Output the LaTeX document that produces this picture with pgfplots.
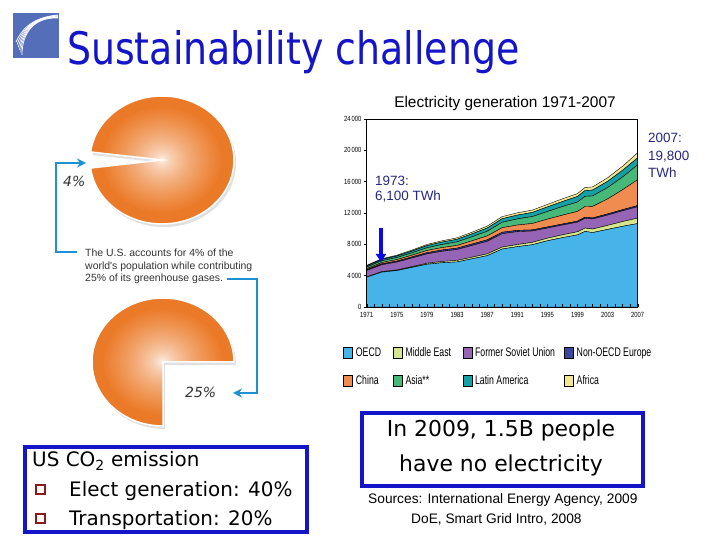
\documentclass[border=0pt]{standalone}
\usepackage{pgfplots}
\pgfplotsset{compat=1.18}
\usepackage{pgfplotstable}
\usepackage{graphicx}
\usepackage{fontspec}
\setmainfont{DejaVu Sans}
\newfontfamily\arial{Liberation Sans}
\usetikzlibrary{arrows.meta}

\definecolor{titleblue}{RGB}{20,20,200}
\definecolor{boxblue}{RGB}{20,20,200}
\definecolor{annoblue}{RGB}{40,40,130}
\definecolor{arrowblue}{RGB}{10,10,230}
\definecolor{linkblue}{RGB}{30,145,210}
\definecolor{logoblue}{RGB}{85,110,185}
\definecolor{pieor}{RGB}{235,122,40}
\definecolor{bulred}{RGB}{140,25,25}
\definecolor{cOECD}{RGB}{70,180,232}
\definecolor{cME}{RGB}{214,230,140}
\definecolor{cFSU}{RGB}{150,100,180}
\definecolor{cNOE}{RGB}{60,70,160}
\definecolor{cCHN}{RGB}{240,140,80}
\definecolor{cASIA}{RGB}{70,185,120}
\definecolor{cLA}{RGB}{20,160,165}
\definecolor{cAFR}{RGB}{245,230,145}

\newcommand\legtxt[2]{\makebox[#1][l]{\hspace{3bp}\scalebox{0.7}[1]{\arial\fontsize{12.5}{12.5}\selectfont #2}}}

% radial fade, white centre to orange rim, drawn as nested ellipses
\newcommand\piefill[3]{% centre x, centre y, path
  \begin{scope}
    \clip #3;
    \fill[pieor] (#1,#2) ellipse[x radius=74, y radius=66];
    \foreach \k in {0,...,29}{
      \pgfmathsetmacro\fr{0.85*(1-\k/30)}
      \pgfmathsetmacro\mix{100*(\fr/0.85)^0.6}
      \fill[pieor!\mix!white] (#1,#2) ellipse[x radius=72*\fr, y radius=64*\fr];
    }
  \end{scope}
}

% electricity generation by region, TWh
\pgfplotstableread{
year oecd me fsu noe china asia la africa
1971 3800 50 800 100 140 200 140 90
1973 4450 60 880 115 165 230 160 100
1975 4650 80 1000 125 195 260 190 115
1977 5050 100 1100 140 220 300 220 130
1979 5450 130 1200 150 280 350 270 150
1981 5650 160 1300 160 310 400 300 170
1983 5750 190 1400 170 350 450 330 190
1985 6150 210 1500 180 410 520 370 210
1987 6550 230 1600 185 500 600 410 240
1989 7400 250 1700 190 580 700 450 270
1991 7700 270 1650 160 680 780 490 290
1993 7950 300 1450 140 820 880 530 300
1995 8450 330 1300 130 1000 980 580 320
1997 8850 360 1250 130 1130 1100 640 350
1999 9200 400 1230 130 1240 1200 700 370
2000 9650 420 1260 135 1360 1300 740 390
2001 9500 450 1280 135 1480 1330 750 400
2003 9900 520 1320 140 1910 1450 800 450
2005 10300 600 1380 145 2550 1620 860 520
2007 10650 700 1450 150 3300 1900 900 650
}\elec

\begin{document}
\begin{tikzpicture}[x=1bp,y=1bp]
\fill[white] (0,0) rectangle (720,540);
\useasboundingbox (0,0) rectangle (720,540);

% logo
\fill[logoblue] (13,482) rectangle (59,527);
\foreach \i in {0,...,5}{
  \draw[white, line width=0.7bp] (16+\i*1.2,498-\i*2.6) .. controls (22,512-\i) and (34,523) .. (58,525-\i*0.6);
}
\node[anchor=base west, text=titleblue, font=\fontsize{45}{45}\selectfont, xscale=0.845, inner sep=0] at (67,475) {Sustainability challenge};

% pies
\def\pieA{(162,380) -- ++(187.2:72 and 64) arc[start angle=187.2, end angle=532.8, x radius=72, y radius=64] -- cycle}
\def\pieAs{(164,377) -- ++(187.2:72 and 64) arc[start angle=187.2, end angle=532.8, x radius=72, y radius=64] -- cycle}
\def\pieB{(163,178) -- ++(0:71 and 64) arc[start angle=0, end angle=270, x radius=71, y radius=64] -- cycle}
\def\pieBs{(165,175) -- ++(0:71 and 64) arc[start angle=0, end angle=270, x radius=71, y radius=64] -- cycle}
\fill[black, opacity=0.12] \pieAs;
\piefill{162}{380}{\pieA}
\draw[white, line width=1.5bp] \pieA;
\fill[black, opacity=0.12] \pieBs;
\piefill{163}{178}{\pieB}
\draw[white, line width=1.5bp] \pieB;

\draw[linkblue, line width=1.5bp, -{Stealth[length=9bp,width=9bp]}] (77,288) -- (56,288) -- (56,377) -- (86,377);
\draw[linkblue, line width=1.5bp, -{Stealth[length=9bp,width=9bp]}] (227,261) -- (257,261) -- (257,147) -- (233,147);
\node[anchor=base west, inner sep=0, font=\fontsize{14}{14}\selectfont\itshape, text=black!80] at (63,353) {4\%};
\node[anchor=base west, inner sep=0, font=\fontsize{14}{14}\selectfont\itshape, text=black!80] at (185,142) {25\%};
\node[anchor=base west, inner sep=0, font=\arial\fontsize{10.5}{10.5}\selectfont, text=black!80] at (85,283) {The U.S. accounts for 4\% of the};
\node[anchor=base west, inner sep=0, font=\arial\fontsize{10.5}{10.5}\selectfont, text=black!80] at (85,270.5) {world's population while contributing};
\node[anchor=base west, inner sep=0, font=\arial\fontsize{10.5}{10.5}\selectfont, text=black!80] at (85,258) {25\% of its greenhouse gases.};

% text boxes
\draw[boxblue, line width=4bp] (25,93) rectangle (307,8);
\node[anchor=base west, inner sep=0, font=\fontsize{20}{20}\selectfont] at (32,73) {US CO\textsubscript{2} emission};
\draw[bulred, line width=1.3bp] (36,55) rectangle (45,46);
\draw[bulred, line width=1.3bp] (36,26) rectangle (45,17);
\node[anchor=base west, inner sep=0, font=\fontsize{20}{20}\selectfont] at (69,43) {Elect generation: 40\%};
\node[anchor=base west, inner sep=0, font=\fontsize{20}{20}\selectfont] at (69,14) {Transportation: 20\%};

\draw[boxblue, line width=4bp] (362,127) rectangle (643,54);
\node[anchor=base, inner sep=0, font=\fontsize{22}{22}\selectfont] at (501,103) {In 2009, 1.5B people};
\node[anchor=base, inner sep=0, font=\fontsize{22}{22}\selectfont] at (501,68) {have no electricity};
\node[anchor=base west, inner sep=0, font=\arial\fontsize{13.8}{13.8}\selectfont] at (368,36) {Sources: International Energy Agency, 2009};
\node[anchor=base west, inner sep=0, font=\arial\fontsize{13.8}{13.8}\selectfont] at (411,16) {DoE, Smart Grid Intro, 2008};

% chart
\node[anchor=base, inner sep=0, font=\arial\fontsize{15.5}{15.5}\selectfont] at (505,432) {Electricity generation 1971-2007};

\begin{axis}[
  at={(366.7bp,233bp)}, anchor=south west,
  scale only axis, width=271bp, height=188bp,
  xmin=1971, xmax=2007, ymin=0, ymax=24000,
  stack plots=y,
  scaled y ticks=false, scaled x ticks=false,
  xtick={1971,1975,1979,1983,1987,1991,1995,1999,2003,2007},
  xticklabels={1971,1975,1979,1983,1987,1991,1995,1999,2003,2007},
  minor x tick num=3,
  ytick={0,4000,8000,12000,16000,20000,24000},
  yticklabels={0,4\hspace{1.5bp}000,8\hspace{1.5bp}000,12\hspace{1.5bp}000,16\hspace{1.5bp}000,20\hspace{1.5bp}000,24\hspace{1.5bp}000},
  tick label style={font=\arial\fontsize{7.5}{7.5}\selectfont, xscale=0.78},
  x tick label style={yshift=-2bp},
  tick pos=left, major tick length=2.5bp, minor tick length=2.5bp,
  xtick align=inside, ytick align=outside,
  tick style={black, line width=0.4pt},
  axis line style={black, line width=0.8pt},
  axis on top,
  legend columns=4,
  legend image code/.code={\draw[#1, draw=black, line width=0.6pt] (0bp,-5.5bp) rectangle (9bp,5.5bp);},
  legend style={at={(-0.087,-0.21)}, anchor=north west, draw=none, fill=none,
    inner sep=0pt, nodes={inner sep=0pt}, column sep=0pt, row sep=17bp},
]
\addplot[fill=cOECD, draw=black, line width=0.4pt] table[x=year,y=oecd]{\elec} \closedcycle;
\addlegendentry{\legtxt{40bp}{OECD}}
\addplot[fill=cME, draw=black, line width=0.4pt] table[x=year,y=me]{\elec} \closedcycle;
\addlegendentry{\legtxt{60bp}{Middle East}}
\addplot[fill=cFSU, draw=black, line width=0.4pt] table[x=year,y=fsu]{\elec} \closedcycle;
\addlegendentry{\legtxt{92bp}{Former Soviet Union}}
\addplot[fill=cNOE, draw=black, line width=0.4pt] table[x=year,y=noe]{\elec} \closedcycle;
\addlegendentry{\legtxt{80bp}{Non-OECD Europe}}
\addplot[fill=cCHN, draw=black, line width=0.4pt] table[x=year,y=china]{\elec} \closedcycle;
\addlegendentry{\legtxt{40bp}{China}}
\addplot[fill=cASIA, draw=black, line width=0.4pt] table[x=year,y=asia]{\elec} \closedcycle;
\addlegendentry{\legtxt{60bp}{Asia**}}
\addplot[fill=cLA, draw=black, line width=0.4pt] table[x=year,y=la]{\elec} \closedcycle;
\addlegendentry{\legtxt{92bp}{Latin America}}
\addplot[fill=cAFR, draw=black, line width=0.4pt] table[x=year,y=africa]{\elec} \closedcycle;
\addlegendentry{\legtxt{80bp}{Africa}}
\end{axis}

\draw[arrowblue, line width=3.5bp, -{Triangle[length=8bp,width=10bp]}] (381,312) -- (381,278);
\node[anchor=base west, inner sep=0, text=annoblue, font=\arial\fontsize{13.5}{13.5}\selectfont] at (375,354) {1973:};
\node[anchor=base west, inner sep=0, text=annoblue, font=\arial\fontsize{13.5}{13.5}\selectfont] at (375,339) {6,100 TWh};
\node[anchor=base west, inner sep=0, text=annoblue, font=\arial\fontsize{13.5}{13.5}\selectfont] at (648,397) {2007:};
\node[anchor=base west, inner sep=0, text=annoblue, font=\arial\fontsize{13.5}{13.5}\selectfont] at (648,379) {19,800};
\node[anchor=base west, inner sep=0, text=annoblue, font=\arial\fontsize{13.5}{13.5}\selectfont] at (648,362) {TWh};
\end{tikzpicture}
\end{document}
